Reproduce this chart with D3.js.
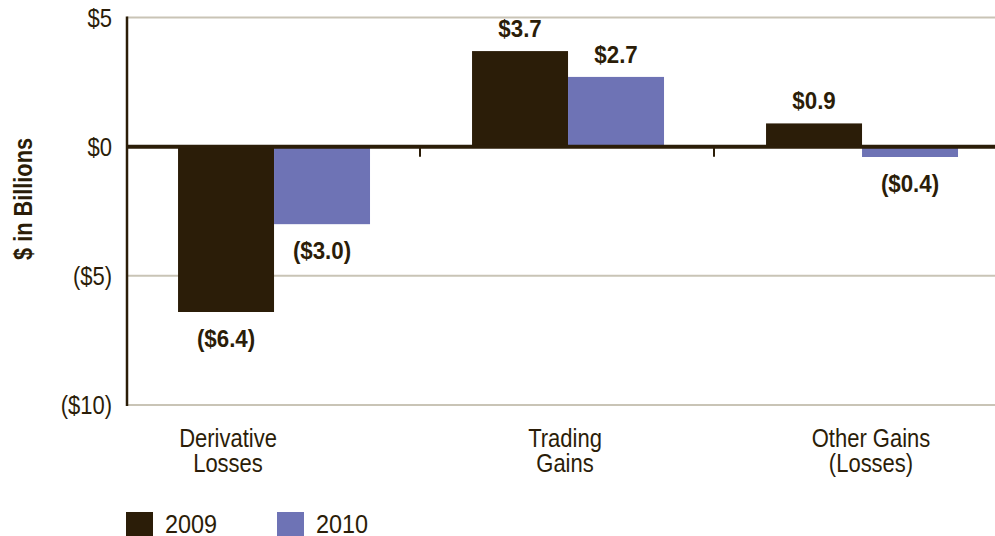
<!DOCTYPE html>
<html><head><meta charset="utf-8">
<script src="https://cdn.jsdelivr.net/npm/d3@7"></script>
<style>
html,body{margin:0;padding:0;background:#fff;}
svg{display:block;font-family:"Liberation Sans",Arial,sans-serif;}
</style></head>
<body>
<svg id="chart" width="995" height="536"></svg>
<script>
const categories = ["Derivative Losses", "Trading Gains", "Other Gains (Losses)"];
const categoryLines = [["Derivative", "Losses"], ["Trading", "Gains"], ["Other Gains", "(Losses)"]];
const seriesNames = ["2009", "2010"];
const values2009 = [-6.4, 3.7, 0.9];
const values2010 = [-3.0, 2.7, -0.4];
const valueLabels2009 = ["($6.4)", "$3.7", "$0.9"];
const valueLabels2010 = ["($3.0)", "$2.7", "($0.4)"];
const yTicks = [5, 0, -5, -10];
const yTickLabels = ["$5", "$0", "($5)", "($10)"];

const colors = ["#2b1d08", "#6e73b5"];
const ink = "#2b1d08";
const gridColor = "#c9c4b6";
const labelDx = [-45, -2, 10];

const svg = d3.select("#chart");
const left = 127, right = 995;
const x0 = d3.scaleBand().domain(categories).range([126, 1008]).padding(0);
const x1 = d3.scaleBand().domain(seriesNames)
  .range([x0.bandwidth() * 0.177, x0.bandwidth() * 0.83]).padding(0);
const y = d3.scaleLinear().domain([-10, 5]).range([405, 17.5]);

// helper: condensed text placed at (x,y)
function placeText(sel, fx, fy, sx) {
  sel.attr("x", 0).attr("y", 0)
    .attr("transform", (d, i) => `translate(${fx(d, i)},${fy(d, i)}) scale(${sx},1)`);
}

// gridlines
svg.append("g").selectAll("line").data(yTicks.filter(d => d !== 0)).join("line")
  .attr("x1", left).attr("x2", right)
  .attr("y1", d => y(d)).attr("y2", d => y(d))
  .attr("stroke", gridColor).attr("stroke-width", 2);

// bars
const data = categories.map((c, i) => ({
  cat: c,
  items: [
    { s: "2009", v: values2009[i], label: valueLabels2009[i] },
    { s: "2010", v: values2010[i], label: valueLabels2010[i] }
  ]
}));
const groups = svg.append("g").selectAll("g").data(data).join("g")
  .attr("transform", d => `translate(${x0(d.cat)},0)`);
groups.selectAll("rect").data(d => d.items).join("rect")
  .attr("x", d => x1(d.s)).attr("width", x1.bandwidth())
  .attr("y", d => y(Math.max(0, d.v)))
  .attr("height", d => Math.abs(y(d.v) - y(0)))
  .attr("fill", (d, i) => colors[i]);
groups.selectAll("text.val").data(d => d.items).join("text")
  .attr("class", "val")
  .attr("text-anchor", "middle")
  .attr("font-weight", "bold").attr("font-size", 24).attr("fill", ink)
  .call(placeText, d => x1(d.s) + x1.bandwidth() / 2,
        d => d.v >= 0 ? y(d.v) - 14 : y(d.v) + 35, 0.93)
  .text(d => d.label);

// zero line
svg.append("line").attr("x1", left).attr("x2", right)
  .attr("y1", y(0)).attr("y2", y(0))
  .attr("stroke", ink).attr("stroke-width", 4);
// ticks between categories
svg.append("g").selectAll("line").data(categories.slice(1)).join("line")
  .attr("x1", d => x0(d)).attr("x2", d => x0(d))
  .attr("y1", y(0)).attr("y2", y(0) + 10)
  .attr("stroke", ink).attr("stroke-width", 2);

// y axis
const yAxis = d3.axisLeft(y).tickValues(yTicks).tickSize(0).tickPadding(15)
  .tickFormat((d, i) => yTickLabels[i]);
const ga = svg.append("g").attr("transform", `translate(${left},0)`).call(yAxis);
ga.select(".domain").remove();
ga.selectAll(".tick text").attr("font-size", 25).attr("fill", ink)
  .attr("font-family", "'Liberation Sans',Arial,sans-serif")
  .attr("x", 0).attr("dy", "0.34em")
  .attr("transform", "translate(-15,0) scale(0.88,1)");
svg.append("line").attr("x1", left).attr("x2", left)
  .attr("y1", y(5) - 1).attr("y2", y(-10) + 1)
  .attr("stroke", ink).attr("stroke-width", 2.5);

// y title
svg.append("text")
  .attr("transform", `translate(32,199) rotate(-90) scale(0.87,1)`)
  .attr("text-anchor", "middle").attr("font-weight", "bold")
  .attr("font-size", 25).attr("fill", ink).text("$ in Billions");

// category labels
const cl = svg.append("g").selectAll("text").data(categories).join("text")
  .attr("text-anchor", "middle").attr("font-size", 25).attr("fill", ink)
  .call(placeText, (d, i) => x0(d) + x0.bandwidth() / 2 + labelDx[i], () => 447, 0.88);
cl.selectAll("tspan").data((d, i) => categoryLines[i]).join("tspan")
  .attr("x", 0)
  .attr("dy", (d, i) => i === 0 ? 0 : 25)
  .text(d => d);

// legend
const lg = svg.append("g").selectAll("g").data(seriesNames).join("g")
  .attr("transform", (d, i) => `translate(${126 + i * 151},512)`);
lg.append("rect").attr("width", 27).attr("height", 26).attr("fill", (d, i) => colors[i]);
lg.append("text").attr("font-size", 26).attr("fill", ink)
  .attr("transform", "translate(39,21) scale(0.9,1)")
  .text(d => d);
</script>
</body></html>
